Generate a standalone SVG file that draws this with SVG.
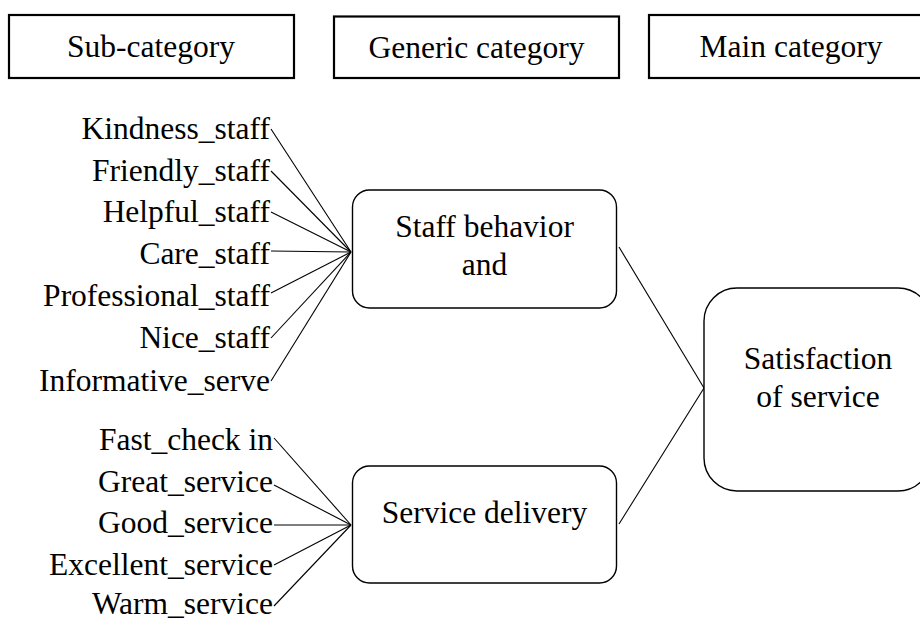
<svg xmlns="http://www.w3.org/2000/svg" width="920" height="621" viewBox="0 0 920 621">
  <style>
    text { font-family: 'Liberation Serif', Tinos, 'Times New Roman', Times, 'DejaVu Serif', serif; font-size: 31.5px; fill: #000; }
    .hdr { fill: #fff; stroke: #000; stroke-width: 2.2; }
    .node { fill: #fff; stroke: #000; stroke-width: 1.4; }
    .mid { text-anchor: middle; }
    .lbl { text-anchor: end; }
    #connectors line { stroke: #000; stroke-width: 1.1; }
  </style>
  <rect width="920" height="621" fill="#fff"/>

  <!-- column headers -->
  <g id="hdr-sub">
    <rect class="hdr" x="9" y="15" width="285" height="63"/>
    <text class="mid" x="151" y="57">Sub-category</text>
  </g>
  <g id="hdr-generic">
    <rect class="hdr" x="334" y="16.5" width="285" height="61.5"/>
    <text class="mid" x="476.5" y="58">Generic category</text>
  </g>
  <g id="hdr-main">
    <rect class="hdr" x="649" y="15" width="285" height="63"/>
    <text class="mid" x="791" y="57">Main category</text>
  </g>

  <!-- connectors -->
  <g id="connectors">
    <line x1="271" y1="129" x2="351" y2="252"/>
    <line x1="271" y1="171" x2="351" y2="252"/>
    <line x1="271" y1="212" x2="351" y2="252"/>
    <line x1="271" y1="251" x2="351" y2="252"/>
    <line x1="271" y1="293" x2="351" y2="252"/>
    <line x1="271" y1="338" x2="351" y2="252"/>
    <line x1="271" y1="381" x2="351" y2="252"/>
    <line x1="274" y1="438" x2="351" y2="525"/>
    <line x1="274" y1="485" x2="351" y2="525"/>
    <line x1="274" y1="525" x2="351" y2="525"/>
    <line x1="274" y1="565" x2="351" y2="525"/>
    <line x1="274" y1="606" x2="351" y2="525"/>
    <line x1="619" y1="247" x2="704" y2="388"/>
    <line x1="619" y1="524" x2="704" y2="388"/>
  </g>

  <!-- sub-category labels -->
  <g id="sub-staff">
    <text class="lbl" x="270" y="138.5">Kindness_staff</text>
    <text class="lbl" x="270" y="180.5">Friendly_staff</text>
    <text class="lbl" x="270" y="222">Helpful_staff</text>
    <text class="lbl" x="270" y="264">Care_staff</text>
    <text class="lbl" x="270" y="306">Professional_staff</text>
    <text class="lbl" x="270" y="348">Nice_staff</text>
    <text class="lbl" x="270" y="391">Informative_serve</text>
  </g>
  <g id="sub-service">
    <text class="lbl" x="273" y="450">Fast_check in</text>
    <text class="lbl" x="273" y="492">Great_service</text>
    <text class="lbl" x="273" y="533">Good_service</text>
    <text class="lbl" x="273" y="575">Excellent_service</text>
    <text class="lbl" x="273" y="614">Warm_service</text>
  </g>

  <!-- generic categories -->
  <g id="staff-behavior">
    <rect class="node" x="352.5" y="190" width="264" height="118" rx="17" ry="17"/>
    <text class="mid" x="484.5" y="237">Staff behavior</text>
    <text class="mid" x="484.5" y="275">and</text>
  </g>
  <g id="service-delivery">
    <rect class="node" x="352.5" y="466" width="264" height="117" rx="17" ry="17"/>
    <text class="mid" x="484.5" y="523">Service delivery</text>
  </g>

  <!-- main category -->
  <g id="satisfaction">
    <rect class="node" x="704" y="288" width="227" height="203" rx="33" ry="33"/>
    <text class="mid" x="818" y="368.5">Satisfaction</text>
    <text class="mid" x="818" y="407">of service</text>
  </g>
</svg>
